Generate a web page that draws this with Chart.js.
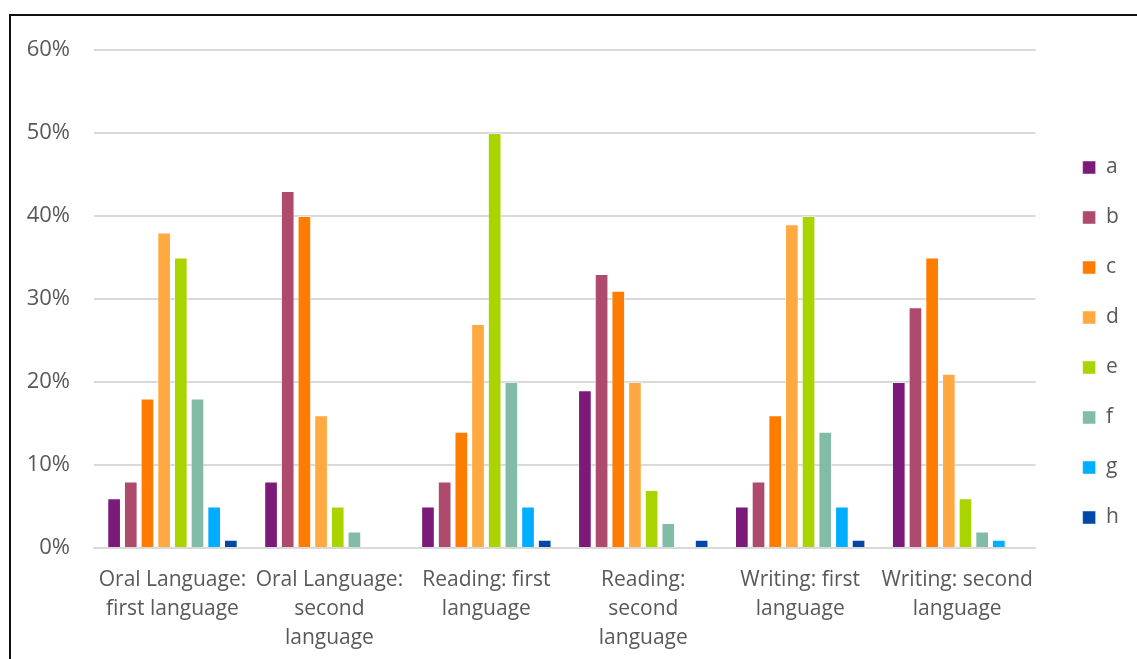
<!DOCTYPE html>
<html>
<head>
<meta charset="utf-8">
<script src="https://cdn.jsdelivr.net/npm/chart.js@4/dist/chart.umd.min.js"></script>
<style>
    html, body { margin: 0; padding: 0; background: #fff; overflow: hidden; }
    #wrap { position: absolute; left: 0; top: 0; width: 1137px; height: 659px; }
    #frame { position: absolute; left: 9px; top: 14px; width: 1140px; height: 700px;
             border-top: 2px solid #111; border-left: 2px solid #111; pointer-events: none; }
</style>
</head>
<body>
<div id="wrap"><canvas id="chart" width="1137" height="659"></canvas></div>
<div id="frame"></div>
<script>
// Categories along the x axis (split into display lines)
const categories = [
    ['Oral Language:', 'first language'],
    ['Oral Language:', 'second', 'language'],
    ['Reading: first', 'language'],
    ['Reading:', 'second', 'language'],
    ['Writing: first', 'language'],
    ['Writing: second', 'language']
];

const seriesNames = ['a', 'b', 'c', 'd', 'e', 'f', 'g', 'h'];
const seriesColors = ['#7B1A78', '#AD4A6D', '#FF7C00', '#FFA940', '#AAD400', '#82BCA6', '#00AEFF', '#0048A8'];

// Percentages per series, one value per category
const valuesA = [6, 8, 5, 19, 5, 20];
const valuesB = [8, 43, 8, 33, 8, 29];
const valuesC = [18, 40, 14, 31, 16, 35];
const valuesD = [38, 16, 27, 20, 39, 21];
const valuesE = [35, 5, 50, 7, 40, 6];
const valuesF = [18, 2, 20, 3, 14, 2];
const valuesG = [5, 0, 5, 0, 5, 1];
const valuesH = [1, 0, 1, 1, 1, 0];

const yTicks = [0, 10, 20, 30, 40, 50, 60];

const allValues = [valuesA, valuesB, valuesC, valuesD, valuesE, valuesF, valuesG, valuesH];

const datasets = seriesNames.map((name, i) => ({
    label: name,
    data: allValues[i],
    backgroundColor: seriesColors[i],
    borderColor: 'rgba(255,255,255,0.45)',
    borderWidth: 1,
    categoryPercentage: 0.85,
    barPercentage: 0.82
}));

const labelFont = { family: '"Open Sans", Lato, sans-serif', size: 21, lineHeight: 1.38 };

// nudge the legend block after layout (dx, dy in px)
const legendShift = {
    id: 'legendShift',
    afterLayout(chart) {
        const lg = chart.legend;
        const dx = 18, dy = -12;
        lg.left += dx; lg.right += dx;
        lg.top += dy; lg.bottom += dy;
    }
};

new Chart(document.getElementById('chart'), {
    type: 'bar',
    data: { labels: categories, datasets: datasets },
    plugins: [legendShift],
    options: {
        responsive: false,
        animation: false,
        layout: { padding: { left: 0, top: 50, right: 26, bottom: 0 } },
        plugins: {
            tooltip: { enabled: false },
            legend: {
                position: 'right',
                labels: {
                    boxWidth: 13,
                    boxHeight: 13,
                    padding: 29,
                    color: '#595959',
                    font: labelFont
                }
            }
        },
        scales: {
            x: {
                afterFit: scale => { scale.height = 111; },
                grid: { display: false, drawTicks: false, tickLength: 0 },
                border: { color: '#d9d9d9', width: 2 },
                ticks: {
                    color: '#595959',
                    font: labelFont,
                    maxRotation: 0,
                    autoSkip: false,
                    padding: 18
                }
            },
            y: {
                min: 0,
                max: 60,
                afterBuildTicks: scale => { scale.ticks = yTicks.map(v => ({ value: v })); },
                afterFit: scale => { scale.width = 94; },
                grid: { color: '#d9d9d9', lineWidth: 2, drawTicks: false },
                border: { display: false },
                ticks: {
                    color: '#595959',
                    font: { family: '"Open Sans", Lato, sans-serif', size: 22 },
                    padding: 24,
                    callback: v => v + '%'
                }
            }
        }
    }
});
</script>
</body>
</html>
